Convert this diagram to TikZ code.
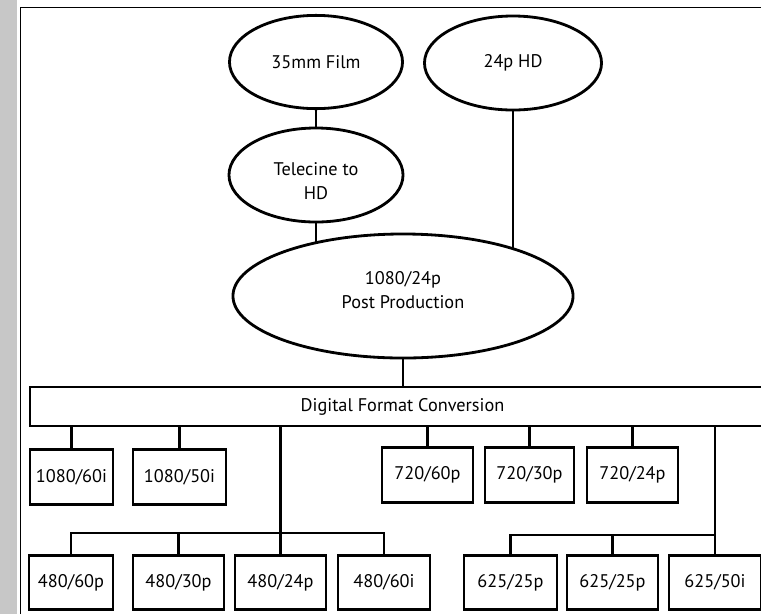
\documentclass[tikz,border=0pt]{standalone}
\usepackage{fontspec}
\setmainfont{PT Sans}
\usetikzlibrary{shapes.geometric,backgrounds}
\tikzset{oval/.style={ellipse,draw,fill=white,line width=2pt,inner sep=0pt,align=center,font=\fontsize{13}{17}\selectfont},
    fmt/.style={rectangle,draw,fill=white,line width=2.1pt,inner sep=0pt,minimum width=#1*0.025cm,minimum height=1.36cm,font=\fontsize{13}{16}\selectfont},
    fmt/.default=90,
    link/.style={line width=1.6pt}}

\begin{document}
\begin{tikzpicture}[x=0.025cm,y=-0.025cm]
                \useasboundingbox (0,0) rectangle (761,614);
                \fill[black!22] (0,0) rectangle (17,614);
                \draw[line width=0.6pt] (20,614) -- (20,7) -- (761,7);

                \node[oval,minimum width=4.325cm,minimum height=2.33cm] (film) at (316,62) {35mm Film};
                \node[oval,minimum width=4.425cm,minimum height=2.35cm] (hd) at (513,63) {24p HD};
                \node[oval,minimum width=4.35cm,minimum height=2.35cm] (tele) at (316,175) {Telecine to\\HD\\[-26pt]};
                \node[oval,minimum width=8.5cm,minimum height=3.1cm] (post) at (403,296) {1080/24p\\Post Production\\[-8pt]};

                \node[fmt=745,minimum height=0.975cm,line width=1.6pt] (conv) at (402.5,406.5) {Digital Format Conversion};

                \node[fmt=83] (b1080a) at (71.5,477) {1080/60i};
                \node[fmt=93] (b1080b) at (179.5,477) {1080/50i};
                \node[fmt=91] (b720a) at (427.5,475) {720/60p};
                \node[fmt=89] (b720b) at (529.5,475) {720/30p};
                \node[fmt=91] (b720c) at (632.5,475) {720/24p};

                \node[fmt=84] (b480a) at (71,582.5) {480/60p};
                \node[fmt=91] (b480b) at (178.5,582.5) {480/30p};
                \node[fmt=91] (b480c) at (280.5,582.5) {480/24p};
                \node[fmt=92] (b480d) at (384,582.5) {480/60i};
                \node[fmt=93] (b625a) at (510.5,582.5) {625/25p};
                \node[fmt=91] (b625b) at (612.5,582.5) {625/25p};
                \node[fmt=92] (b625c) at (715,582.5) {625/50i};

                \coordinate (j480) at (280.5,533);
                \coordinate (j625) at (715,535);

                \begin{scope}[on background layer]
                    \draw[link] (film) -- (tele);
                    \draw[link] (tele.south) -- (tele.south |- post.center);
                    \draw[link] (hd.south) -- (hd.south |- post.center);
                    \draw[link] (post.south) -- (post.south |- conv.north);
                    \foreach \b in {b1080a,b1080b,b720a,b720b,b720c}
                        \draw[link] (conv.south -| \b.north) -- (\b.north);
                    \draw[link] (conv.south -| b480c.north) -- (b480c.north);
                    \draw[link] (b480a.north) |- (j480) -| (b480d.north);
                    \draw[link] (b480b.north) -- (b480b.north |- j480);
                    \draw[link] (conv.south -| b625c.north) -- (b625c.north);
                    \draw[link] (b625a.north) |- (j625);
                    \draw[link] (b625b.north) -- (b625b.north |- j625);
                \end{scope}
            \end{tikzpicture}
\end{document}
